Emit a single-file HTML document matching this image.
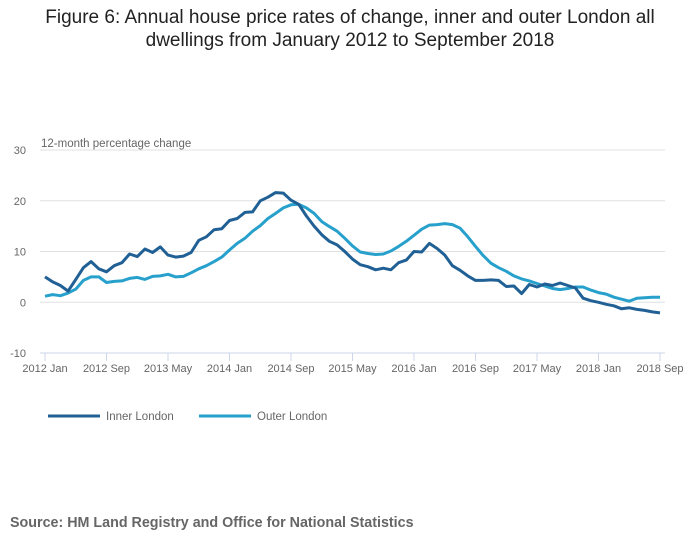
<!DOCTYPE html>
<html><head><meta charset="utf-8">
<style>
body{margin:0;background:#fff;font-family:"Liberation Sans",sans-serif;}
#wrap{position:relative;width:700px;height:549px;overflow:hidden;}
</style></head>
<body>
<div id="wrap">
<svg id="chart" width="700" height="549" xmlns="http://www.w3.org/2000/svg">
  <text x="350" y="23" text-anchor="middle" font-size="19" fill="#222">Figure 6: Annual house price rates of change, inner and outer London all</text>
  <text x="350" y="46" text-anchor="middle" font-size="19" fill="#222">dwellings from January 2012 to September 2018</text>
  <text x="41" y="147" font-size="11.5" fill="#666">12-month percentage change</text>
  <g id="grid"></g>
  <g id="xaxis"></g>
  <g id="series"></g>
  <g>
    <g>
      <line x1="48" y1="416" x2="100" y2="416" stroke="#206095" stroke-width="3"/>
      <text x="106" y="420" font-size="11.5" fill="#666">Inner London</text>
    </g>
    <g>
      <line x1="199" y1="416" x2="251" y2="416" stroke="#27a0cc" stroke-width="3"/>
      <text x="257" y="420" font-size="11.5" fill="#666">Outer London</text>
    </g>
  </g>
  <text x="10" y="527" font-size="14.3" font-weight="bold" fill="#666">Source: HM Land Registry and Office for National Statistics</text>
</svg>
</div>
<script>
const yTicks = [30, 20, 10, 0, -10];
const xTickLabels = ["2012 Jan","2012 Sep","2013 May","2014 Jan","2014 Sep","2015 May","2016 Jan","2016 Sep","2017 May","2018 Jan","2018 Sep"];
const xTickMonths = [0,8,16,24,32,40,48,56,64,72,80];
const innerLondon = [5.0,4.0,3.3,2.2,4.5,6.8,8.0,6.6,6.0,7.2,7.8,9.5,9.0,10.5,9.8,10.9,9.3,8.9,9.1,9.8,12.2,12.9,14.3,14.5,16.1,16.5,17.7,17.8,20.0,20.7,21.6,21.5,20.1,19.3,17.0,15.0,13.3,12.0,11.3,10.0,8.5,7.4,7.0,6.4,6.7,6.4,7.8,8.3,10.0,9.9,11.6,10.6,9.3,7.2,6.3,5.2,4.3,4.3,4.4,4.3,3.1,3.2,1.7,3.5,3.0,3.6,3.3,3.8,3.3,2.8,0.8,0.3,0.0,-0.4,-0.7,-1.3,-1.1,-1.4,-1.6,-1.9,-2.1];
const outerLondon = [1.2,1.5,1.3,1.8,2.6,4.3,5.0,5.0,3.9,4.1,4.2,4.7,4.9,4.5,5.1,5.2,5.5,5.0,5.1,5.8,6.6,7.2,8.0,8.9,10.3,11.6,12.6,14.0,15.1,16.5,17.5,18.6,19.2,19.3,18.6,17.5,15.9,14.9,14.0,12.6,11.1,9.9,9.6,9.4,9.5,10.1,11.0,12.0,13.2,14.4,15.2,15.3,15.5,15.3,14.6,12.9,11.0,9.2,7.7,6.8,6.1,5.2,4.6,4.2,3.7,3.2,2.7,2.5,2.7,3.0,3.0,2.4,1.9,1.6,1.0,0.6,0.2,0.8,0.9,1.0,1.0];

const NS = "http://www.w3.org/2000/svg";
const x0 = 45, x1 = 660, nMonths = 80;
const yTop = 150, yBot = 353, vMax = 30, vMin = -10;
function xScale(m){ return x0 + (x1 - x0) * m / nMonths; }
function yScale(v){ return yTop + (vMax - v) * (yBot - yTop) / (vMax - vMin); }

const grid = document.getElementById('grid');
yTicks.forEach(t => {
  const y = yScale(t);
  if (t !== vMin) {
    const l = document.createElementNS(NS, 'line');
    l.setAttribute('x1', 40); l.setAttribute('x2', 665);
    l.setAttribute('y1', y); l.setAttribute('y2', y);
    l.setAttribute('stroke', '#e0e0e0'); l.setAttribute('stroke-width', 1);
    
    
    grid.appendChild(l);
  }
  const tx = document.createElementNS(NS, 'text');
  tx.setAttribute('x', 26); tx.setAttribute('y', y + 4);
  tx.setAttribute('text-anchor', 'end'); tx.setAttribute('font-size', '11');
  tx.setAttribute('fill', '#666');
  tx.textContent = t;
  
  
  grid.appendChild(tx);
});

const xaxis = document.getElementById('xaxis');
const base = document.createElementNS(NS, 'line');
base.setAttribute('x1', 40); base.setAttribute('x2', 665);
base.setAttribute('y1', yBot); base.setAttribute('y2', yBot);
base.setAttribute('stroke', '#ccd6eb');


xaxis.appendChild(base);
xTickMonths.forEach((m, i) => {
  const x = xScale(m);
  const tk = document.createElementNS(NS, 'line');
  tk.setAttribute('x1', x); tk.setAttribute('x2', x);
  tk.setAttribute('y1', yBot); tk.setAttribute('y2', yBot + 8);
  tk.setAttribute('stroke', '#ccd6eb');
  
  
  xaxis.appendChild(tk);
  const tx = document.createElementNS(NS, 'text');
  tx.setAttribute('x', x); tx.setAttribute('y', yBot + 19);
  tx.setAttribute('text-anchor', 'middle'); tx.setAttribute('font-size', '11');
  tx.setAttribute('fill', '#666');
  tx.textContent = xTickLabels[i];
  
  
  xaxis.appendChild(tx);
});

const series = document.getElementById('series');
function drawLine(vals, color, name){
  const p = document.createElementNS(NS, 'path');
  p.setAttribute('d', vals.map((v, i) => (i ? 'L' : 'M') + xScale(i).toFixed(1) + ' ' + yScale(v).toFixed(1)).join(' '));
  p.setAttribute('fill', 'none'); p.setAttribute('stroke', color);
  p.setAttribute('stroke-width', 3); p.setAttribute('stroke-linejoin', 'round');
  
  
  series.appendChild(p);
}
drawLine(outerLondon, '#27a0cc', 'outer-london-line');
drawLine(innerLondon, '#206095', 'inner-london-line');
</script>
</body></html>
